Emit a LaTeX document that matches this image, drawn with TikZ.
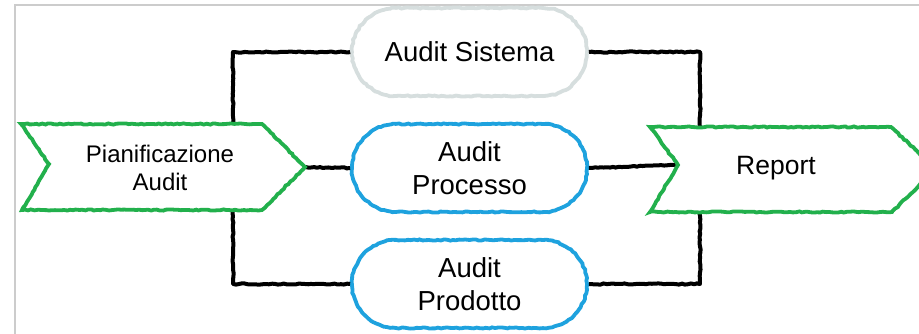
\documentclass[tikz,border=0pt]{standalone}
\usepackage{fontspec}
\setmainfont{Liberation Sans}
\usetikzlibrary{shapes.misc,decorations.pathmorphing}
\definecolor{cgreen}{RGB}{34,176,76}
\definecolor{cblue}{RGB}{30,162,222}
\definecolor{cgraypill}{RGB}{214,222,222}
\definecolor{cframe}{RGB}{204,204,204}
\tikzset{
  rough/.style={decorate,decoration={random steps,segment length=3pt,amplitude=0.6pt}},
  conn/.style={rough,draw=black,line width=4pt,line join=round},
  pill/.style={rounded rectangle,minimum width=235pt,minimum height=88pt,fill=white,
    line width=3.8pt,rough,align=center,font=\fontsize{27.5}{33}\selectfont,inner sep=0pt},
  chev/.style={fill=white,draw=cgreen,line width=3.8pt,rough,line join=miter},
  chevtext/.style={align=center,font=\fontsize{24}{28}\selectfont,inner sep=0pt},
}
\begin{document}
\begin{tikzpicture}[x=1pt,y=-1pt]
\pgfmathsetseed{7}
\useasboundingbox (0,0) rectangle (919,334);
% frame lines
\draw[cframe,line width=2pt] (15,334) -- (15,5) -- (919,5);
% pills
\node[pill,draw=cgraypill] (sis) at (469.5,52) {Audit Sistema};
\node[pill,draw=cblue] (proc) at (469.5,168) {Audit\\Processo};
\node[pill,draw=cblue] (prod) at (469.5,284) {Audit\\Prodotto};
% junction coordinates
\coordinate (jl) at (233,168);
\coordinate (jr) at (700,168);
\coordinate (pianTip) at (305,167);
\coordinate (repNotch) at (678,165);
% connectors
\draw[conn] (sis.west) -| (jl) |- (prod.west);
\draw[conn] (sis.east) -| (jr) |- (prod.east);
\draw[conn] (pianTip) -- (proc.west);
\draw[conn] (proc.east) -- (repNotch);
% chevrons
\draw[chev] (21,124) -- (262,124) -- (pianTip) -- (262,210) -- (22,210) -- (49,164) -- cycle;
\node[chevtext] (pian) at (160,168) {Pianificazione\\Audit};
\draw[chev] (650,127) -- (891,127) -- (936,169) -- (892,212) -- (650,212) -- (repNotch) -- cycle;
\node[chevtext,font=\fontsize{26.5}{30}\selectfont] (rep) at (776,168) {Report};
\end{tikzpicture}
\end{document}
